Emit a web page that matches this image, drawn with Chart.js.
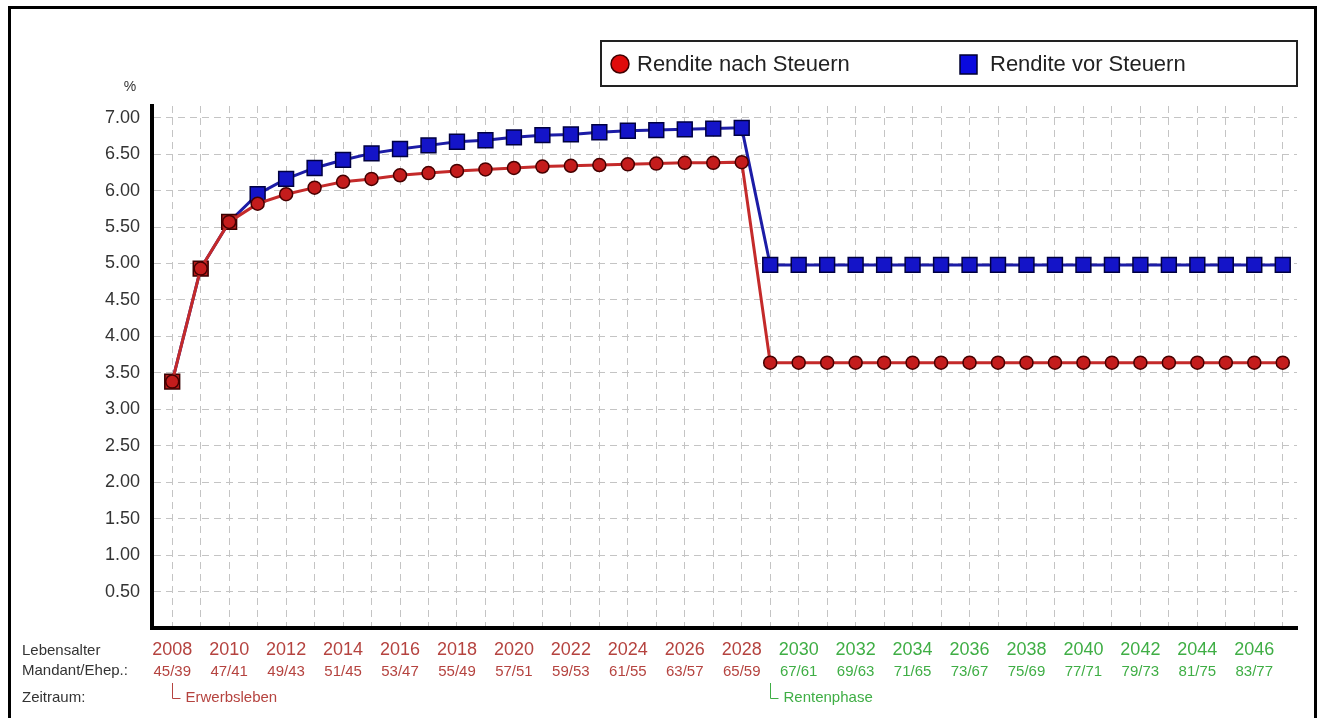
<!DOCTYPE html>
<html>
<head>
<meta charset="utf-8">
<script src="https://cdn.jsdelivr.net/npm/chart.js@4/dist/chart.umd.min.js"></script>
<style>
  html, body { margin: 0; padding: 0; background: #fff; }
  #wrap { width: 1325px; height: 718px; }
</style>
</head>
<body>
<div id="wrap"><canvas id="chart" width="1325" height="718"></canvas></div>
<script>
// years on the x axis, one point per year
var years = [2008, 2009, 2010, 2011, 2012, 2013, 2014, 2015, 2016, 2017, 2018, 2019, 2020, 2021, 2022, 2023, 2024, 2025, 2026, 2027,
    2028, 2029, 2030, 2031, 2032, 2033, 2034, 2035, 2036, 2037, 2038, 2039, 2040, 2041, 2042, 2043, 2044, 2045, 2046, 2047];

var renditeNach = [3.38, 4.93, 5.57, 5.82, 5.95, 6.04, 6.12, 6.16, 6.21, 6.24, 6.27, 6.29, 6.31, 6.33, 6.34, 6.35, 6.36, 6.37, 6.38, 6.38,
    6.39, 3.64, 3.64, 3.64, 3.64, 3.64, 3.64, 3.64, 3.64, 3.64, 3.64, 3.64, 3.64, 3.64, 3.64, 3.64, 3.64, 3.64, 3.64, 3.64];

var renditeVor = [3.38, 4.93, 5.57, 5.95, 6.16, 6.31, 6.42, 6.51, 6.57, 6.62, 6.67, 6.69, 6.73, 6.76, 6.77, 6.80, 6.82, 6.83, 6.84, 6.85,
    6.86, 4.98, 4.98, 4.98, 4.98, 4.98, 4.98, 4.98, 4.98, 4.98, 4.98, 4.98, 4.98, 4.98, 4.98, 4.98, 4.98, 4.98, 4.98, 4.98];

// labelled years under the axis and the ages (Mandant/Ehepartner)
var tickYears = [2008, 2010, 2012, 2014, 2016, 2018, 2020, 2022, 2024, 2026, 2028, 2030, 2032, 2034, 2036, 2038, 2040, 2042, 2044, 2046];
var tickAges = ["45/39", "47/41", "49/43", "51/45", "53/47", "55/49", "57/51", "59/53", "61/55", "63/57", "65/59",
    "67/61", "69/63", "71/65", "73/67", "75/69", "77/71", "79/73", "81/75", "83/77"];

var seriesNames = ["Rendite nach Steuern", "Rendite vor Steuern"];
var rowLabels = ["Lebensalter", "Mandant/Ehep.:", "Zeitraum:"];
var phases = [{ year: 2008, text: "Erwerbsleben" }, { year: 2029, text: "Rentenphase" }];
var rentenStart = 2029;

var FONT = "'Liberation Sans', Arial, sans-serif";
var RED_TXT = "#b5433f";
var GREEN_TXT = "#3fae45";

function points(vals) {
    return years.map(function (y, i) { return { x: y, y: vals[i] }; });
}

// first three blue points sit under the red ones and show red
var blueFill = years.map(function (y, i) { return i < 3 ? "#b81c1c" : "#1414c8"; });
var blueEdge = years.map(function (y, i) { return i < 3 ? "#3a0000" : "#000040"; });

var extras = {
    id: "extras",
    afterDraw: function (chart) {
        var ctx = chart.ctx;
        var xs = chart.scales.x;
        ctx.save();

        // outer frame
        ctx.strokeStyle = "#000";
        ctx.lineWidth = 3;
        ctx.strokeRect(9.5, 7.5, 1306, 720);

        // legend
        ctx.lineWidth = 2;
        ctx.strokeStyle = "#222";
        ctx.strokeRect(601, 41, 696, 45);
        ctx.beginPath();
        ctx.arc(620, 64, 9, 0, Math.PI * 2);
        ctx.fillStyle = "#e00b0b";
        ctx.fill();
        ctx.lineWidth = 1.5;
        ctx.strokeStyle = "#400000";
        ctx.stroke();
        ctx.fillStyle = "#0a0adf";
        ctx.fillRect(960, 55, 17, 19);
        ctx.strokeStyle = "#000030";
        ctx.strokeRect(960, 55, 17, 19);
        ctx.fillStyle = "#222";
        ctx.font = "22px " + FONT;
        ctx.textBaseline = "middle";
        ctx.textAlign = "left";
        ctx.fillText(seriesNames[0], 637, 65);
        ctx.fillText(seriesNames[1], 990, 65);

        // % unit
        ctx.font = "14px " + FONT;
        ctx.fillStyle = "#333";
        ctx.textAlign = "center";
        ctx.fillText("%", 130, 87);

        // row captions
        ctx.textAlign = "left";
        ctx.font = "15px " + FONT;
        ctx.fillStyle = "#333";
        ctx.fillText(rowLabels[0], 22, 651);
        ctx.fillText(rowLabels[1], 22, 671);
        ctx.fillText(rowLabels[2], 22, 698);

        // year + age labels
        ctx.textAlign = "center";
        tickYears.forEach(function (y, i) {
            var px = xs.getPixelForValue(y);
            var col = y >= rentenStart ? GREEN_TXT : RED_TXT;
            ctx.fillStyle = col;
            ctx.font = "18px " + FONT;
            ctx.fillText(String(y), px, 650);
            ctx.font = "15px " + FONT;
            ctx.fillText(tickAges[i], px, 672);
        });

        // phase brackets
        phases.forEach(function (p) {
            var px = Math.round(xs.getPixelForValue(p.year)) + 0.5;
            var col = p.year >= rentenStart ? GREEN_TXT : RED_TXT;
            ctx.strokeStyle = col;
            ctx.lineWidth = 1;
            ctx.beginPath();
            ctx.moveTo(px, 683);
            ctx.lineTo(px, 698.5);
            ctx.lineTo(px + 8, 698.5);
            ctx.stroke();
            ctx.fillStyle = col;
            ctx.font = "15px " + FONT;
            ctx.textAlign = "left";
            ctx.fillText(p.text, px + 13, 698);
        });

        ctx.restore();
    }
};

var config = {
    type: "line",
    data: {
        datasets: [
            {
                label: seriesNames[0],
                data: points(renditeNach),
                borderColor: "#c42a2a",
                borderWidth: 3,
                pointStyle: "circle",
                pointRadius: 6.5,
                pointBackgroundColor: "#c41c1c",
                pointBorderColor: "#450000",
                pointBorderWidth: 1.5,
                tension: 0
            },
            {
                label: seriesNames[1],
                data: points(renditeVor),
                borderColor: "#1c1ca6",
                borderWidth: 3,
                pointStyle: "rect",
                pointRadius: 10.5,
                pointBackgroundColor: blueFill,
                pointBorderColor: blueEdge,
                pointBorderWidth: 1.5,
                tension: 0
            }
        ]
    },
    options: {
        responsive: false,
        animation: false,
        devicePixelRatio: 1,
        layout: { padding: { left: 0, top: 106, right: 28, bottom: 0 } },
        plugins: {
            legend: { display: false },
            tooltip: { enabled: false }
        },
        scales: {
            x: {
                type: "linear",
                min: 2007.29,
                max: 2047.5,
                afterFit: function (scale) { scale.height = 90; },
                ticks: { display: false, stepSize: 1, includeBounds: false },
                grid: { color: "#c4c4c4", lineWidth: 1, drawTicks: false },
                border: { display: true, color: "#000", width: 4, dash: [7, 5] }
            },
            y: {
                min: 0,
                max: 7.16,
                afterFit: function (scale) { scale.width = 152; },
                ticks: {
                    stepSize: 0.5,
                    includeBounds: false,
                    padding: 12,
                    color: "#333",
                    font: { family: FONT, size: 18 },
                    callback: function (v) { return v === 0 ? "" : v.toFixed(2); }
                },
                grid: { color: "#c4c4c4", lineWidth: 1, drawTicks: false },
                border: { display: true, color: "#000", width: 4, dash: [7, 5] }
            }
        }
    },
    plugins: [extras]
};

var chart = new Chart(document.getElementById("chart").getContext("2d"), config);
console.log("chart ready", chart.chartArea);
</script>
</body>
</html>
